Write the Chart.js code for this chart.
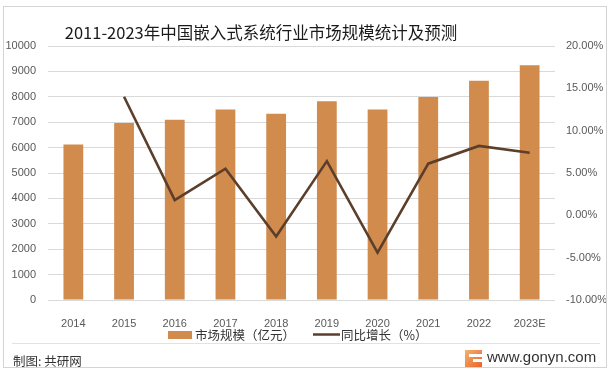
<!DOCTYPE html>
<html lang="zh-CN">
<head>
<meta charset="UTF-8">
<title>嵌入式系统行业市场规模</title>
<script src="https://cdn.jsdelivr.net/npm/chart.js"></script>
<style>
    html, body { margin: 0; padding: 0; background: #fff; }
    #wrap { width: 612px; height: 373px; }
</style>
</head>
<body>
<div id="wrap"><canvas id="chart" width="612" height="373"></canvas></div>
<script>
// data
const years = ['2014', '2015', '2016', '2017', '2018', '2019', '2020', '2021', '2022', '2023E'];
const marketSize = [6120, 6970, 7100, 7500, 7330, 7820, 7500, 7990, 8630, 9240];
const growthRate = [null, 14.0, 1.8, 5.5, -2.5, 6.4, -4.4, 6.1, 8.2, 7.4];

const titleText = '2011-2023年中国嵌入式系统行业市场规模统计及预测';
const sizeLabel = '市场规模（亿元）';
const growthLabel = '同比增长（%）';
const sourceText = '制图: 共研网';
const siteText = 'www.gonyn.com';

const barColor = '#D18B4C';
const lineColor = '#5B3F2A';
const tickColor = '#595959';
const cjk = '"Noto Sans CJK SC", "Noto Sans", sans-serif';
const num = '"Liberation Sans", Arial, sans-serif';

// frame, title, legend and footer
const decor = {
    id: 'decor',
    beforeDraw(chart) {
        const c = chart.ctx;
        c.save();
        c.fillStyle = '#fff';
        c.fillRect(0, 0, chart.width, chart.height);
        c.restore();
    },
    afterDraw(chart) {
        const c = chart.ctx;
        c.save();
        // outer frame
        c.strokeStyle = '#d4d4d4';
        c.lineWidth = 1;
        c.strokeRect(3.5, 6.5, 603, 361);
        // footer divider
        c.strokeStyle = '#e2e2e2';
        c.beginPath();
        c.moveTo(12, 343.5);
        c.lineTo(600, 343.5);
        c.stroke();

        // title
        c.fillStyle = '#1a1a1a';
        c.font = '16.5px ' + cjk;
        c.textAlign = 'center';
        c.textBaseline = 'middle';
        c.fillText(titleText, 261, 33);

        // legend
        c.textAlign = 'left';
        c.font = '12.5px ' + cjk;
        c.fillStyle = barColor;
        c.fillRect(168, 331, 24, 8);
        c.fillStyle = '#333';
        c.fillText(sizeLabel, 195, 335);
        c.strokeStyle = lineColor;
        c.lineWidth = 2.5;
        c.beginPath();
        c.moveTo(313, 334.5);
        c.lineTo(340, 334.5);
        c.stroke();
        c.fillText(growthLabel, 341, 335);

        // footer
        c.font = '12.5px ' + cjk;
        c.fillStyle = '#333';
        c.fillText(sourceText, 13, 361);
        c.font = '15px ' + num;
        c.fillText(siteText, 487, 358);

        // small logo
        const g = c.createLinearGradient(465, 350, 482, 367);
        g.addColorStop(0, '#F6B26B');
        g.addColorStop(1, '#E8642C');
        c.fillStyle = g;
        c.fillRect(465, 350, 17, 17);
        c.fillStyle = '#fff';
        c.fillRect(469, 354, 13, 3);
        c.fillRect(473, 359, 9, 3);
        c.restore();
    }
};

const ctx = document.getElementById('chart').getContext('2d');
const chart = new Chart(ctx, {
    data: {
        labels: years,
        datasets: [
            {
                type: 'line',
                label: growthLabel,
                data: growthRate,
                yAxisID: 'y1',
                borderColor: lineColor,
                backgroundColor: lineColor,
                borderWidth: 2.6,
                pointRadius: 0,
                tension: 0,
                fill: false,
                order: 1
            },
            {
                type: 'bar',
                label: sizeLabel,
                data: marketSize,
                yAxisID: 'y',
                backgroundColor: barColor,
                categoryPercentage: 1,
                barPercentage: 0.39,
                order: 2
            }
        ]
    },
    options: {
        responsive: false,
        animation: false,
        devicePixelRatio: 1,
        layout: { padding: { top: 46, left: 0, right: 0, bottom: 0 } },
        plugins: {
            legend: { display: false },
            title: { display: false },
            tooltip: { enabled: false }
        },
        scales: {
            x: {
                grid: { display: false },
                border: { display: false },
                ticks: { color: tickColor, font: { family: num, size: 11 }, padding: 9, maxRotation: 0 },
                afterFit(axis) { axis.height = 73; }
            },
            y: {
                position: 'left',
                min: 0,
                max: 10000,
                grid: { color: '#d9d9d9', drawTicks: false },
                border: { display: false },
                ticks: {
                    stepSize: 1000,
                    color: tickColor,
                    font: { family: num, size: 11 },
                    padding: 12,
                    callback: v => String(v)
                },
                afterFit(axis) { axis.width = 48; }
            },
            y1: {
                position: 'right',
                min: -10,
                max: 20,
                grid: { display: false, drawTicks: false },
                border: { display: false },
                ticks: {
                    stepSize: 5,
                    color: tickColor,
                    font: { family: num, size: 11 },
                    padding: 11,
                    callback: v => v.toFixed(2) + '%'
                },
                afterFit(axis) { axis.width = 57; }
            }
        }
    },
    plugins: [decor]
});
</script>
</body>
</html>
